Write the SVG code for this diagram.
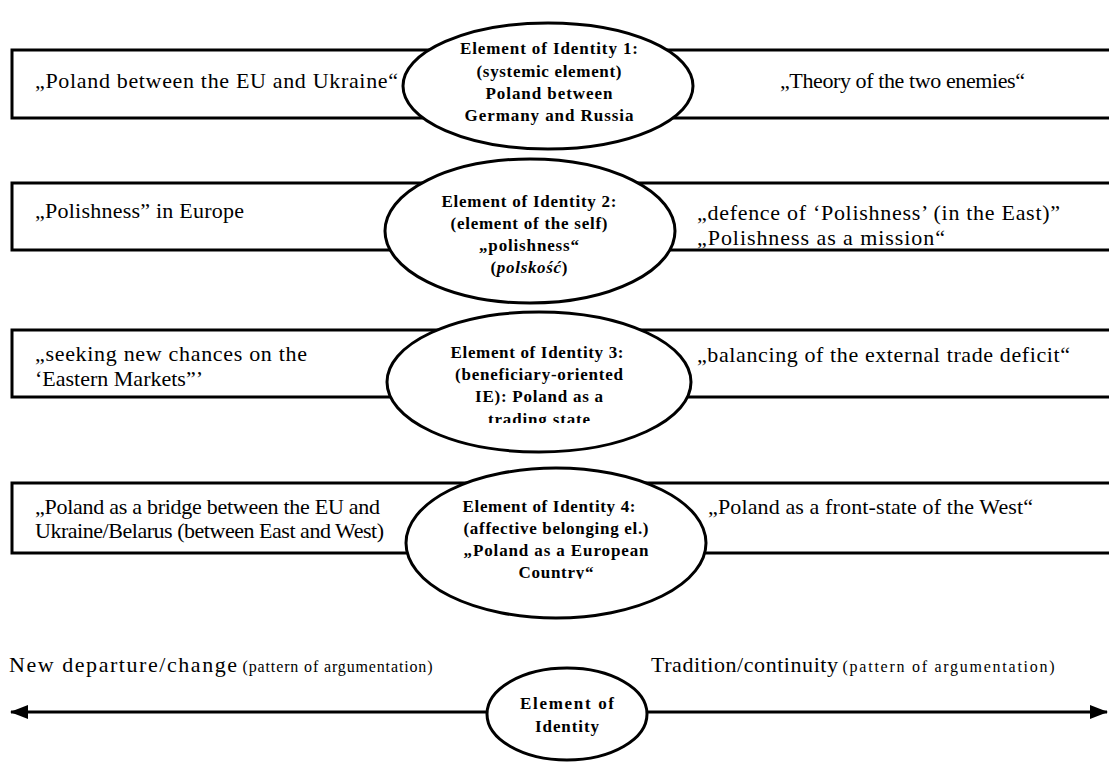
<svg xmlns="http://www.w3.org/2000/svg" width="1109" height="765" viewBox="0 0 1109 765">
<style>
.box{fill:#fff;stroke:#000;stroke-width:3}
.ell{fill:#fff;stroke:#000;stroke-width:3}
.t{font-family:"Liberation Serif","Times New Roman",serif;font-size:22px;fill:#000}
.e{font-family:"Liberation Serif","Times New Roman",serif;font-size:17px;font-weight:bold;fill:#000;text-anchor:middle}
.s{font-size:16px}
.ln{stroke:#000;stroke-width:3;fill:none}
</style>
<defs>
<marker id="ah" viewBox="0 0 18 14" refX="17" refY="7" markerWidth="18" markerHeight="14" orient="auto-start-reverse" markerUnits="userSpaceOnUse">
<path d="M0,0 L18,7 L0,14 z" fill="#000"/>
</marker>
<clipPath id="c3"><rect x="380" y="300" width="320" height="123"/></clipPath>
<clipPath id="c4"><rect x="380" y="460" width="340" height="119"/></clipPath>
</defs>

<g id="connectors">
<line class="ln" x1="11" y1="712" x2="1107" y2="712" marker-start="url(#ah)" marker-end="url(#ah)"/>
</g>

<g id="row1">
<rect id="r1l" class="box" x="12" y="50" width="540" height="68"/>
<rect id="r1r" class="box" x="548" y="50" width="575" height="68"/>
<text class="t" x="35" y="88" textLength="363">„Poland between the EU and Ukraine“</text>
<text class="t" x="780" y="88" textLength="245">„Theory of the two enemies“</text>
</g>
<g id="identity1">
<ellipse class="ell" cx="548" cy="86" rx="145" ry="63"/>
<text class="e" x="549" y="54" textLength="178">Element of Identity 1:</text>
<text class="e" x="549" y="77" textLength="145">(systemic element)</text>
<text class="e" x="549" y="99" textLength="127">Poland between</text>
<text class="e" x="549" y="121" textLength="169">Germany and Russia</text>
</g>

<g id="row2">
<rect id="r2l" class="box" x="12" y="183" width="530" height="67"/>
<rect id="r2r" class="box" x="530" y="183" width="590" height="67"/>
<text class="t" x="35" y="218" textLength="209">„Polishness” in Europe</text>
<text class="t" x="697" y="220" textLength="363">„defence of ‘Polishness’ (in the East)”</text>
<text class="t" x="697" y="245" textLength="248">„Polishness as a mission“</text>
</g>
<g id="identity2">
<ellipse class="ell" cx="530" cy="231" rx="145" ry="72"/>
<text class="e" x="529" y="207" textLength="175">Element of Identity 2:</text>
<text class="e" x="529" y="229" textLength="157">(element of the self)</text>
<text class="e" x="529" y="251" textLength="100">„polishness“</text>
<text class="e" x="529" y="273" textLength="77">(<tspan font-style="italic">polskość</tspan>)</text>
</g>

<g id="row3">
<rect id="r3l" class="box" x="12" y="330" width="530" height="67"/>
<rect id="r3r" class="box" x="540" y="330" width="580" height="67"/>
<text class="t" x="35" y="361" textLength="272">„seeking new chances on the</text>
<text class="t" x="35" y="386" textLength="168">‘Eastern Markets”’</text>
<text class="t" x="697" y="362" textLength="373">„balancing of the external trade deficit“</text>
</g>
<g id="identity3">
<ellipse class="ell" cx="539" cy="382" rx="152" ry="70"/>
<g clip-path="url(#c3)">
<text class="e" x="537" y="358" textLength="173">Element of Identity 3:</text>
<text class="e" x="539" y="380" textLength="168">(beneficiary-oriented</text>
<text class="e" x="539" y="402" textLength="128">IE): Poland as a</text>
<text class="e" x="539" y="425" textLength="102">trading state</text>
</g>
</g>

<g id="row4">
<rect id="r4l" class="box" x="12" y="483" width="540" height="70"/>
<rect id="r4r" class="box" x="556" y="483" width="565" height="70"/>
<text class="t" x="35" y="514" textLength="345">„Poland as a bridge between the EU and</text>
<text class="t" x="35" y="538" textLength="349">Ukraine/Belarus (between East and West)</text>
<text class="t" x="708" y="514" textLength="325">„Poland as a front-state of the West“</text>
</g>
<g id="identity4">
<ellipse class="ell" cx="556" cy="543" rx="150" ry="75"/>
<g clip-path="url(#c4)">
<text class="e" x="549" y="512" textLength="173">Element of Identity 4:</text>
<text class="e" x="556" y="534" textLength="185">(affective belonging el.)</text>
<text class="e" x="556" y="556" textLength="185">„Poland as a European</text>
<text class="e" x="556" y="578" textLength="75">Country“</text>
</g>
</g>

<g id="axis-labels">
<text class="t" x="9" y="672"><tspan textLength="228">New departure/change</tspan><tspan class="s" dx="4" textLength="190">(pattern of argumentation)</tspan></text>
<text class="t" x="651" y="672"><tspan textLength="187">Tradition/continuity</tspan><tspan class="s" dx="4" textLength="212">(pattern of argumentation)</tspan></text>
</g>

<g id="identity-generic">
<ellipse class="ell" cx="567" cy="714" rx="80" ry="46"/>
<text class="e" x="567" y="709" textLength="94">Element of</text>
<text class="e" x="567" y="732" textLength="64">Identity</text>
</g>
</svg>
